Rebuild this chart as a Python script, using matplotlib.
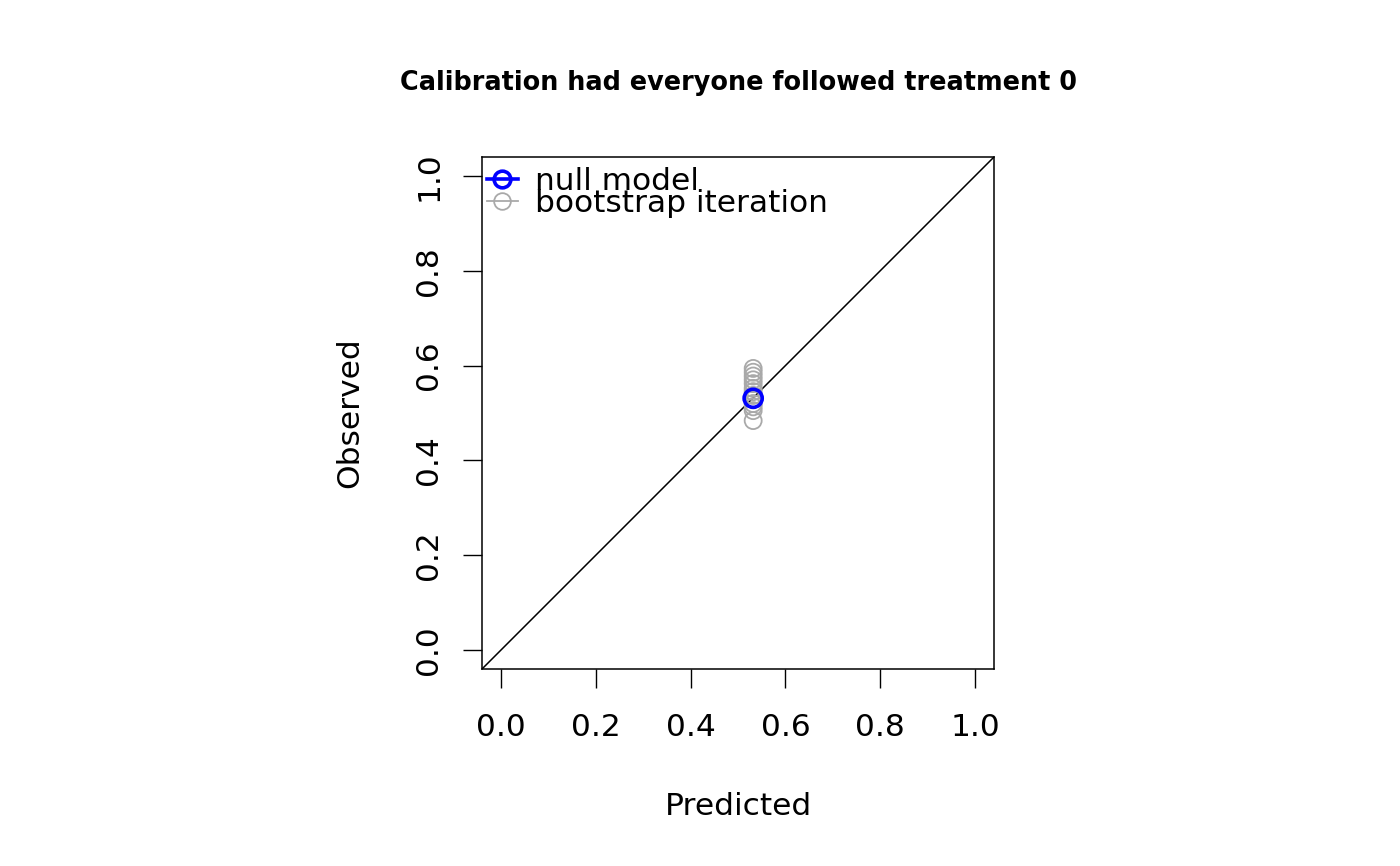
import matplotlib
matplotlib.use("Agg")
import matplotlib.pyplot as plt
from matplotlib.lines import Line2D

# values
null_pred = [0.532]
null_obs = [0.531]
boot_pred = [0.532] * 13
boot_obs = [0.594, 0.586, 0.578, 0.570, 0.562, 0.552, 0.545, 0.537,
            0.528, 0.520, 0.513, 0.505, 0.484]
ticks = [0.0, 0.2, 0.4, 0.6, 0.8, 1.0]

plt.rcParams['font.family'] = ['DejaVu Sans']
fig = plt.figure(figsize=(14, 8.66), dpi=100)
ax = fig.add_axes([482/1400, 1-669/866, 512/1400, 512/866])

ax.axline((0, 0), slope=1, color='black', lw=1.1)
ax.scatter(boot_pred, boot_obs, s=150, facecolors='none', edgecolors='#a9a9a9', lw=1.3, zorder=3)
ax.scatter(null_pred, null_obs, s=170, facecolors='none', edgecolors='blue', lw=2.6, zorder=4)

ax.set_xlim(-0.04, 1.04)
ax.set_ylim(-0.04, 1.04)
ax.set_xticks(ticks)
ax.set_yticks(ticks)
ax.set_xticklabels(['%.1f' % t for t in ticks])
ax.set_yticklabels(['%.1f' % t for t in ticks])
ax.tick_params(direction='out', length=14, width=1, labelsize=22.5)
ax.tick_params(axis='x', pad=18)
ax.tick_params(axis='y', pad=14, labelrotation=90)
for lab in ax.get_yticklabels():
    lab.set_va('center')
for sp in ax.spines.values():
    sp.set_linewidth(1.1)

ax.set_xlabel('Predicted', fontsize=22.5, labelpad=36)
ax.set_ylabel('Observed', fontsize=22.5, labelpad=36)
ax.set_title('Calibration had everyone followed treatment 0', fontsize=18.4,
             fontweight='bold', pad=48)

handles = [
    Line2D([], [], color='blue', lw=2.6, marker='o', markersize=12,
           markerfacecolor='none', markeredgewidth=2.6),
    Line2D([], [], color='#a9a9a9', lw=1.3, marker='o', markersize=12,
           markerfacecolor='none', markeredgewidth=1.3),
]
ax.legend(handles, ['null model', 'bootstrap iteration'], loc='upper left',
          bbox_to_anchor=(0.0, 0.99),
          frameon=False, fontsize=22.5, labelspacing=-0.21, handlelength=1.0,
          handletextpad=0.55, borderaxespad=0.0, borderpad=0.15)

fig.savefig('out.png', dpi=100)
